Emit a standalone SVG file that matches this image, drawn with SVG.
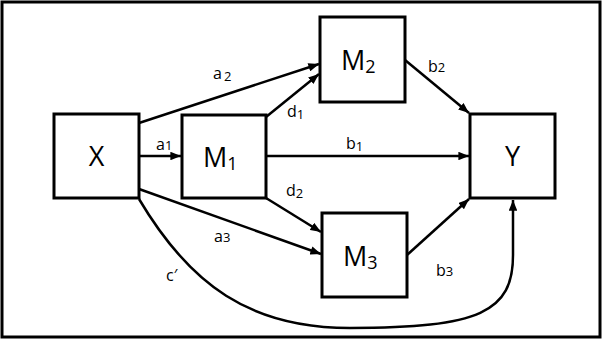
<svg xmlns="http://www.w3.org/2000/svg" width="604" height="341" viewBox="0 0 604 341">
<style>
.box{fill:#fff;stroke:#000;stroke-width:3}
.big{font-family:"Open Sans","Liberation Sans",sans-serif;font-size:27px;fill:#000}
.sub{font-size:18px}
.lab{font-family:"Open Sans","Liberation Sans",sans-serif;font-size:16px;fill:#000}
.ls{font-size:13px}
.c{fill:none;stroke:#000;stroke-width:2.5;marker-end:url(#ah)}
</style>
<defs>
<marker id="ah" viewBox="0 0 10 8" refX="10" refY="4" markerWidth="4.4" markerHeight="3.4" orient="auto" markerUnits="strokeWidth">
<path d="M0,0 L10,4 L0,8 z" fill="#000"/>
</marker>
</defs>
<rect x="0" y="0" width="604" height="341" fill="#fff"/>
<rect x="2" y="2" width="598" height="335" fill="none" stroke="#000" stroke-width="3"/>
<g id="connectors">
<line class="c" x1="139" y1="156" x2="181" y2="156"/>
<line class="c" x1="139" y1="123" x2="319" y2="64"/>
<line class="c" x1="266" y1="117" x2="319" y2="74"/>
<line class="c" x1="266" y1="156" x2="469" y2="156"/>
<line class="c" x1="266" y1="198" x2="321" y2="232"/>
<line class="c" x1="139" y1="189" x2="321" y2="254"/>
<line class="c" x1="405" y1="60" x2="469" y2="113"/>
<line class="c" x1="407" y1="255" x2="469" y2="199"/>
<path class="c" d="M139,199 C190,285 250,328 350,328 C480,328 513,312 513,255 L513,200"/>
<text class="lab" x="156" y="150">a<tspan class="ls">1</tspan></text>
<text class="lab" x="213" y="79">a<tspan class="ls" dx="2" dy="2">2</tspan></text>
<text class="lab" x="287" y="117">d<tspan class="ls" dy="2">1</tspan></text>
<text class="lab" x="346" y="149">b<tspan class="ls" dy="2">1</tspan></text>
<text class="lab" x="286" y="196">d<tspan class="ls" dy="2">2</tspan></text>
<text class="lab" x="214" y="242">a<tspan class="ls">3</tspan></text>
<text class="lab" x="428" y="72">b<tspan class="ls">2</tspan></text>
<text class="lab" x="436" y="276">b<tspan class="ls">3</tspan></text>
<text class="lab" x="166" y="281">c′</text>
</g>
<g id="X">
<rect class="box" x="54" y="114" width="85" height="84"/>
<text class="big" x="96.5" y="166" text-anchor="middle">X</text>
</g>
<g id="M1">
<rect class="box" x="182" y="115" width="84" height="83"/>
<text class="big" x="203" y="167">M<tspan class="sub" dy="3">1</tspan></text>
</g>
<g id="M2">
<rect class="box" x="320" y="17" width="85" height="85"/>
<text class="big" x="341" y="70">M<tspan class="sub" dy="3">2</tspan></text>
</g>
<g id="M3">
<rect class="box" x="322" y="213" width="85" height="84"/>
<text class="big" x="343" y="266">M<tspan class="sub" dy="3">3</tspan></text>
</g>
<g id="Y">
<rect class="box" x="470" y="114" width="85" height="84"/>
<text class="big" x="512.5" y="166" text-anchor="middle">Y</text>
</g>
</svg>
